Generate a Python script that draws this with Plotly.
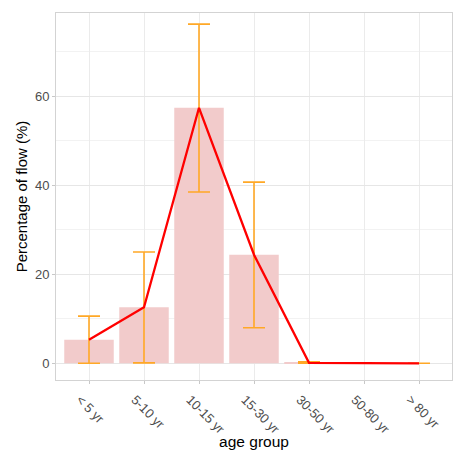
import plotly.graph_objects as go

age_groups = ["< 5 yr", "5-10 yr", "10-15 yr", "15-30 yr", "30-50 yr", "50-80 yr", "> 80 yr"]
mean_pct = [5.3, 12.6, 57.4, 24.4, 0.1, 0.0, 0.0]
upper_pct = [10.6, 25.0, 76.2, 40.7, 0.35, 0.0, 0.0]
lower_pct = [0.0, 0.1, 38.5, 8.0, 0.0, 0.0, 0.0]

err_plus = [u - m for u, m in zip(upper_pct, mean_pct)]
err_minus = [m - l for m, l in zip(mean_pct, lower_pct)]

fig = go.Figure()
fig.add_trace(go.Bar(
    x=age_groups, y=mean_pct, width=0.9,
    marker=dict(color="#F2CBCB", line=dict(width=0)),
    showlegend=False, hoverinfo="skip",
))
fig.add_trace(go.Scatter(
    x=age_groups, y=mean_pct, mode="markers",
    marker=dict(size=0.1, opacity=0),
    error_y=dict(type="data", symmetric=False, array=err_plus, arrayminus=err_minus,
                 color="#FFA826", thickness=1.6, width=11),
    showlegend=False, hoverinfo="skip",
))
fig.add_trace(go.Scatter(
    x=age_groups, y=mean_pct, mode="lines",
    line=dict(color="#FF0000", width=2.3),
    showlegend=False,
))

axis_font = dict(family="Liberation Sans, Arial, sans-serif", size=13, color="#4D4D4D")
fig.update_layout(
    width=453, height=450,
    margin=dict(l=56, r=1, t=13, b=70),
    paper_bgcolor="white", plot_bgcolor="white",
    font=dict(family="Liberation Sans, Arial, sans-serif", size=15.5, color="black"),
    bargap=0.1,
    xaxis=dict(
        type="category", range=[-0.6, 6.6], tickangle=45,
        tickfont=axis_font, showgrid=True, gridcolor="#EBEBEB", gridwidth=1,
        showline=True, linecolor="#D3D3D3", linewidth=1, mirror=True,
        ticks="outside", ticklen=3, tickcolor="#C8C8C8", tickwidth=1,
        ticklabelshift=-9, ticklabelstandoff=3,
        zeroline=False,
        title=dict(text="age group", font=dict(size=15.5, color="black"), standoff=1),
    ),
    yaxis=dict(
        range=[-3.75, 78.7], tickvals=[0, 20, 40, 60],
        tickfont=axis_font, showgrid=True, gridcolor="#E6E6E6", gridwidth=1,
        minor=dict(tickvals=[10, 30, 50, 70], showgrid=True, gridcolor="#F2F2F2", gridwidth=1, ticks=""),
        showline=True, linecolor="#D3D3D3", linewidth=1, mirror=True,
        ticks="outside", ticklen=3, tickcolor="#C8C8C8", tickwidth=1,
        zeroline=False,
        title=dict(text="Percentage of flow (%)", font=dict(size=15, color="black"), standoff=3),
    ),
)
fig.write_html("out.html")
